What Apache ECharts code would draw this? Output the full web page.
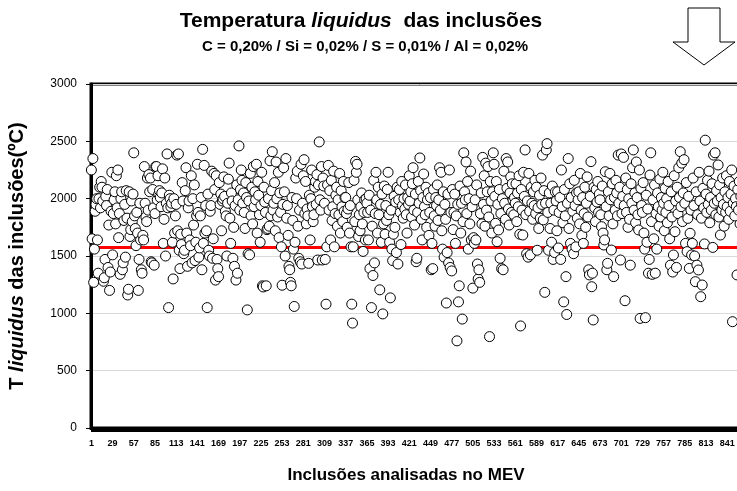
<!DOCTYPE html>
<html>
<head>
<meta charset="utf-8">
<title>Temperatura liquidus das inclusões</title>
<script src="https://cdn.jsdelivr.net/npm/echarts@6/dist/echarts.min.js"></script>
<style>
	html, body { margin: 0; padding: 0; background: #fff; overflow: hidden; width: 737px; height: 491px; }
	/* a bit wider than the window: the plot area runs off the right edge like the original */
	#chart { width: 760px; height: 491px; }
</style>
</head>
<body>
<div id="chart"></div>
<script>
// liquidus temperature of every inclusion (ºC), in the order they were analysed
var tempLiquidus = [
	2250, 1650, 2350, 1270, 1560, 1890, 1950, 2000, 1640, 1350, 2000, 2100, 1920, 2150, 2100, 1980, 1280, 1310, 1470, 2020, 1940, 2080, 1400, 1770, 1200, 1360, 1890, 2230,
	1510, 1870, 1990, 2060, 1780, 2200, 1920, 2250, 1660, 1870, 1340, 2000, 2060, 1380, 1440, 1810, 1950, 1490, 2070, 1830, 1160, 1210, 2060, 1670, 1730, 1980, 1800, 2040,
	2400, 1850, 1740, 1590, 1880, 1700, 1200, 1470, 1960, 1640, 1380, 1350, 1680, 1640, 2280, 1960, 1840, 1800, 2180, 1900, 2210, 2060, 2180, 1450, 1440, 2080, 1920, 1420,
	1870, 2280, 2280, 1990, 2200, 2040, 2070, 2010, 1930, 2050, 2260, 1610, 1820, 2180, 1500, 1960, 2390, 1920, 1050, 2030, 2000, 1930, 1960, 1620, 1300, 2000, 1700, 1850,
	1950, 2380, 1720, 2390, 1550, 1390, 1690, 1600, 2140, 1980, 1520, 1550, 2070, 2270, 1700, 1410, 1920, 1980, 1640, 1590, 2200, 1440, 2000, 1770, 2120, 1460, 1620, 1850,
	2300, 1880, 1490, 1570, 1850, 2010, 1380, 2430, 1610, 2290, 1700, 1940, 1720, 1050, 2040, 1550, 1500, 1890, 1940, 2240, 1480, 1650, 2220, 2080, 1290, 2200, 1470, 1390,
	1320, 2140, 1950, 2040, 1720, 1980, 2000, 2190, 2020, 1890, 1850, 1500, 1960, 2170, 2310, 1830, 1610, 2050, 1980, 1480, 1750, 1410, 1940, 1290, 2120, 1350, 1990, 2460,
	1900, 2080, 2250, 2160, 1960, 2050, 1880, 1740, 2140, 2010, 1030, 1520, 1980, 1510, 2220, 1850, 2100, 1780, 2280, 1930, 2060, 1990, 2300, 1700, 2150, 2030, 1860, 1620,
	1940, 2230, 1240, 1230, 2100, 1970, 1880, 1240, 1730, 1740, 2000, 1760, 2330, 1850, 2070, 2410, 1900, 1960, 2140, 1720, 2320, 2000, 1840, 2230, 1660, 2050, 1880, 1580,
	1245, 1950, 2270, 2060, 1500, 2350, 1830, 1940, 1680, 1410, 1380, 1270, 1240, 2010, 1810, 1560, 1060, 1620, 2180, 2000, 2240, 1760, 1480, 1900, 1450, 2300, 1430, 1960,
	2200, 2340, 1870, 2150, 1780, 1910, 1850, 1436, 2030, 1640, 2000, 2250, 1930, 1800, 1860, 2100, 2150, 1950, 2210, 1465, 2120, 2495, 1990, 1900, 2280, 1465, 2180, 2110,
	1960, 1470, 1080, 1580, 2120, 2290, 1900, 2070, 1640, 2160, 1810, 1930, 2240, 1580, 1870, 2030, 2100, 1760, 1990, 1860, 2220, 1700, 2070, 1930, 1800, 2150, 1890, 2010,
	2010, 1870, 1750, 1910, 2140, 1700, 1940, 1580, 1080, 915, 1580, 2160, 1800, 2325, 2230, 2300, 1990, 1670, 1860, 1720, 1930, 2050, 1780, 1540, 1880, 1990, 1640, 2000,
	1960, 1880, 1640, 2030, 1390, 1900, 1050, 1760, 1330, 2160, 1440, 1870, 2230, 1990, 1700, 2100, 1860, 1205, 1950, 1620, 2040, 995, 1780, 2110, 1690, 1940, 1810, 2080,
	2230, 1860, 1620, 1135, 1900, 1560, 1460, 1690, 2020, 1750, 1970, 1530, 2100, 1430, 1990, 2080, 1880, 1600, 2150, 1940, 1830, 2000, 1910, 2120, 1860, 1700, 2010, 1950,
	2200, 1980, 2060, 1840, 2130, 2270, 1900, 1770, 2040, 1450, 1480, 1880, 2150, 1960, 2355, 2070, 1820, 1640, 2010, 2215, 1930, 1860, 2100, 1750, 1990, 2050, 1680, 1880,
	2010, 1380, 1610, 1390, 2080, 1850, 1760, 2010, 1940, 2120, 1810, 1990, 2270, 1900, 2230, 1720, 1560, 2060, 1490, 1950, 1820, 1090, 1530, 2040, 1440, 2250, 1400, 1880,
	1370, 2080, 1730, 1880, 2040, 1610, 1850, 760, 1950, 1100, 1240, 2110, 1700, 1960, 950, 1800, 2400, 2060, 1990, 2320, 1870, 2150, 1560, 2000, 1780, 2240, 1640, 1930,
	1220, 1660, 1610, 1990, 1640, 2120, 1430, 1300, 1380, 1270, 1870, 2050, 1780, 2360, 1950, 2200, 1760, 2310, 1900, 2060, 2280, 1840, 797, 2150, 1980, 1700, 2060, 2400,
	2300, 2020, 1785, 2150, 1625, 1950, 1727, 2080, 1480, 1870, 1390, 2000, 1380, 2240, 1960, 1820, 2350, 2090, 2320, 1910, 1770, 2050, 2190, 1880, 2130, 1990, 1860, 2010,
	1960, 2130, 1800, 2050, 1930, 2200, 1690, 890, 2080, 1900, 1683, 2230, 2020, 2425, 1860, 1520, 1980, 1490, 2220, 1890, 1510, 2100, 1960, 1820, 2060, 1940, 2160, 1870,
	2100, 1550, 1920, 1740, 2030, 1830, 2180, 1950, 2380, 1815, 2070, 1183, 1960, 2425, 2480, 1880, 1550, 2050, 1740, 1960, 1620, 2110, 1470, 1900, 1530, 2060, 1980, 1720,
	2060, 1570, 1880, 2010, 1470, 2250, 1930, 1790, 1100, 2080, 1850, 1320, 990, 1960, 2350, 1740, 2130, 1610, 2010, 1560, 1890, 1520, 2160, 1940, 1580, 2050, 1830, 1990,
	2060, 1780, 2220, 1900, 1680, 2010, 1610, 1870, 2100, 1750, 1960, 2190, 1840, 1380, 1335, 2020, 2323, 1232, 1350, 942, 2100, 1920, 1800, 2080, 1970, 2150, 1880, 2040,
	1990, 1860, 1756, 2110, 1700, 1596, 1640, 2235, 1930, 1380, 1436, 2060, 1850, 2220, 1990, 1552, 2130, 1780, 1320, 2010, 1900, 2160, 2050, 1850, 2380, 1960, 2100, 1465,
	2390, 1870, 2020, 2360, 1940, 1110, 2180, 1880, 2080, 1750, 2000, 1820, 1420, 2130, 1960, 2270, 2425, 1900, 2050, 1790, 2320, 2010, 1860, 1727, 2250, 956, 2090, 1940,
	1880, 2140, 1700, 1560, 962, 2030, 1620, 1910, 1350, 1470, 2206, 2400, 1800, 1340, 1990, 1650, 2120, 1350, 1870, 1560, 2050, 1930, 1760, 2170, 1840, 2010, 1900, 2230,
	1960, 1720, 2090, 1880, 2000, 1790, 2150, 1940, 1650, 1420, 2060, 1840, 1360, 1509, 2200, 1712, 1980, 1400, 2100, 1870, 2270, 2010, 2410, 1930, 2310, 1800, 2050, 2340,
	1960, 1610, 2140, 1538, 1828, 2020, 1392, 1698, 1900, 1509, 1610, 2180, 1940, 1500, 1276, 2060, 1420, 1860, 1378, 2230, 1980, 1145, 1830, 1247, 2090, 1920, 1605, 2510,
	2040, 1880, 2160, 1950, 2240, 1790, 2010, 1900, 2130, 1575, 2380, 1960, 2400, 1860, 2070, 1980, 2294, 1840, 2120, 1683, 2010, 1900, 2180, 1950, 1760, 2060, 1880, 2200,
	1930, 2010, 1820, 2150, 1890, 2040, 2250, 927, 1960, 2110, 1850, 2000, 1930, 1335, 2080, 1900, 2150, 1780, 2020, 1950, 1880, 2100, 1990, 1840, 2060, 1920, 2010, 1870
];

// reference liquidus temperature of the steel (red line)
var steelLiquidus = 1575;

// y axis range and step
var yMin = 0;
var yMax = 3000;
var yStep = 500;

// categories are just the inclusion numbers 1..N
var inclusionNumbers = [];
for (var i = 0; i < tempLiquidus.length; i++) {
	inclusionNumbers.push(String(i + 1));
}

var FONT = '"Liberation Sans", Arial, sans-serif';

var myChart = echarts.init(document.getElementById('chart'), null, { renderer: 'canvas' });

var option = {
	animation: false,
	backgroundColor: '#fff',
	textStyle: { fontFamily: FONT, color: '#000' },
	// plot area, right border falls outside the visible window
	grid: {
		left: 91,
		top: 84,
		width: 657,
		height: 344,
		containLabel: false,
		outerBoundsMode: 'none',
		show: true,
		borderColor: '#000',
		borderWidth: 3,
		backgroundColor: 'transparent'
	},
	xAxis: {
		type: 'category',
		data: inclusionNumbers,
		boundaryGap: true,
		axisLine: { lineStyle: { color: '#000', width: 3 } },
		axisTick: {
			show: true,
			interval: 0,
			length: 4,
			lineStyle: { color: '#000', width: 1 }
		},
		axisLabel: {
			interval: 27,
			fontSize: 9,
			fontWeight: 'bold',
			color: '#000',
			margin: 11,
			fontFamily: FONT
		},
		splitLine: { show: false }
	},
	yAxis: {
		type: 'value',
		min: yMin,
		max: yMax,
		interval: yStep,
		axisLine: { show: true, lineStyle: { color: '#000', width: 3 } },
		axisTick: { show: true, length: 5, lineStyle: { color: '#000', width: 1 } },
		axisLabel: {
			fontSize: 12,
			color: '#000',
			margin: 14,
			fontFamily: FONT,
			formatter: function(v) { return String(v); }
		},
		splitLine: { show: true, lineStyle: { color: '#d9d9d9', width: 1 } },
		name: '{n|T }{i|liquidus}{n| das inclusões(ºC)}',
		nameLocation: 'middle',
		nameRotate: 90,
		nameGap: 64,
		nameTextStyle: {
			rich: {
				n: { fontSize: 20, fontWeight: 'bold', color: '#000', fontFamily: FONT },
				i: { fontSize: 20, fontWeight: 'bold', fontStyle: 'italic', color: '#000', fontFamily: FONT }
			}
		}
	},
	series: [
		{
			// red line for the steel liquidus, kept under the circles
			type: 'line',
			data: [],
			z: 1,
			markLine: {
				silent: true,
				z: 1,
				symbol: 'none',
				label: { show: false },
				lineStyle: { color: '#ff0000', width: 3, type: 'solid' },
				data: [{ yAxis: steelLiquidus }]
			}
		},
		{
			type: 'scatter',
			data: tempLiquidus,
			z: 3,
			symbol: 'circle',
			symbolSize: 10,
			itemStyle: { color: '#fff', borderColor: '#000', borderWidth: 1, opacity: 1 }
		}
	],
	graphic: [
		{
			type: 'text',
			x: 361,
			y: 21,
			style: {
				text: '{n|Temperatura }{i|liquidus}{n|  das inclusões}',
				align: 'center',
				verticalAlign: 'middle',
				rich: {
					n: { fontSize: 21, fontWeight: 'bold', fill: '#000', fontFamily: FONT },
					i: { fontSize: 21, fontWeight: 'bold', fontStyle: 'italic', fill: '#000', fontFamily: FONT }
				}
			}
		},
		{
			type: 'text',
			x: 365,
			y: 47,
			style: {
				text: 'C = 0,20% / Si = 0,02% / S = 0,01% / Al = 0,02%',
				fontSize: 15,
				fontWeight: 'bold',
				fill: '#000',
				align: 'center',
				verticalAlign: 'middle',
				fontFamily: FONT
			}
		},
		{
			type: 'text',
			x: 406,
			y: 475,
			style: {
				text: 'Inclusões analisadas no MEV',
				fontSize: 17,
				fontWeight: 'bold',
				fill: '#000',
				align: 'center',
				verticalAlign: 'middle',
				fontFamily: FONT
			}
		},
		{
			// down arrow in the top right corner
			type: 'polygon',
			shape: {
				points: [[688, 8], [720, 8], [720, 42], [735, 42], [704, 65], [673, 42], [688, 42]]
			},
			style: { fill: '#fff', stroke: '#000', lineWidth: 1 }
		}
	]
};

myChart.setOption(option);
</script>
</body>
</html>
